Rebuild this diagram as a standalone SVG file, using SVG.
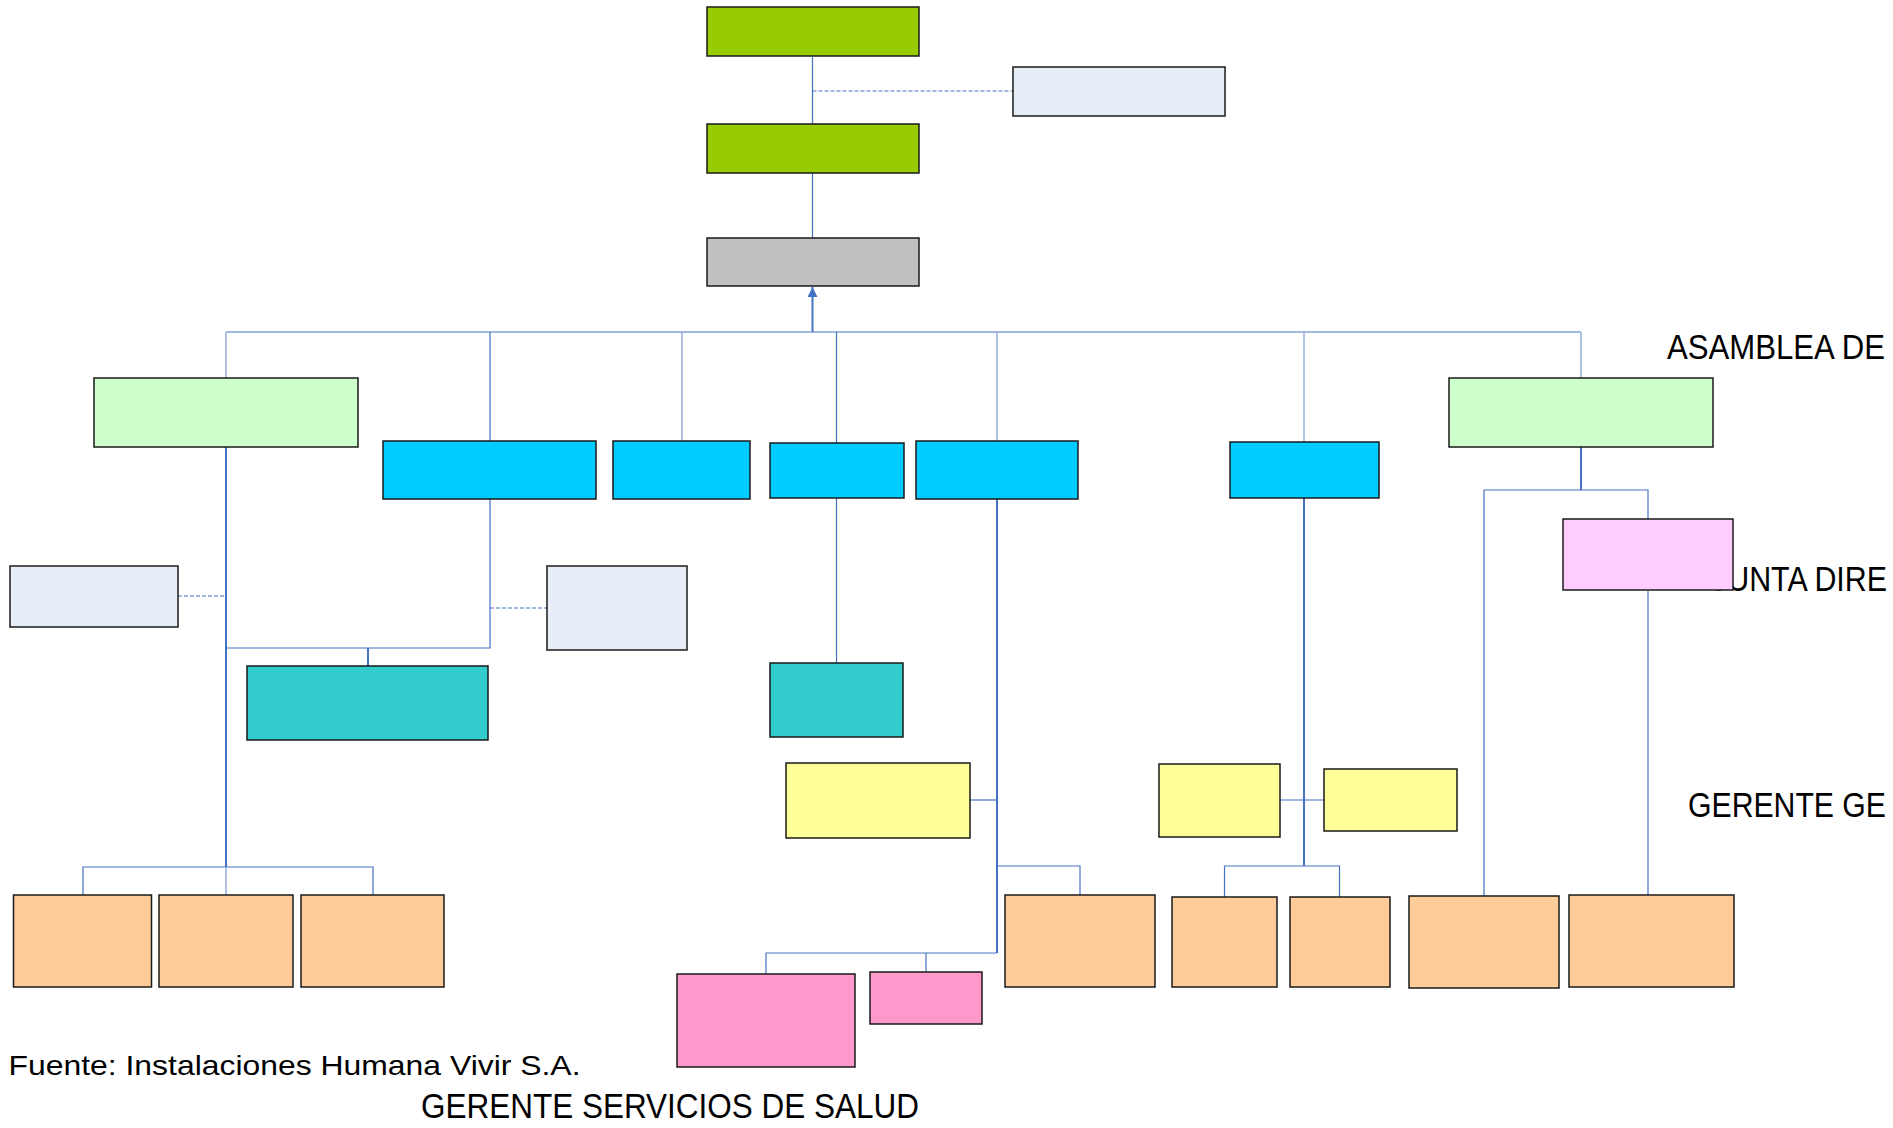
<svg xmlns="http://www.w3.org/2000/svg" width="1893" height="1128" viewBox="0 0 1893 1128">
<defs>
<style>
.n{stroke:#1a1a1a;stroke-width:1.5}
.g1{fill:#99CC00}.gr{fill:#C0C0C0}.lb{fill:#E6EDF7}.lg{fill:#CCFFCC}.bl{fill:#00CCFF}
.tl{fill:#33CCCC}.ye{fill:#FFFF99}.or{fill:#FFCC99}.pk{fill:#FFCCFF}.pm{fill:#FF99CC}
.c{fill:none;stroke:#4472C4;stroke-width:1.2}
.cl{fill:none;stroke:#8EA9DB;stroke-width:1.4}
.ct{fill:none;stroke:#4472C4;stroke-width:2}
.cd{fill:none;stroke:#4472C4;stroke-width:1.2;stroke-dasharray:4 2}
.t{font-family:"Liberation Sans",Arial,sans-serif;fill:#000}
</style>
<marker id="ar" viewBox="0 0 10 10" refX="10" refY="5" markerWidth="10" markerHeight="10" markerUnits="userSpaceOnUse" orient="auto">
<path d="M0,0 L10,5 L0,10 z" fill="#4472C4"/>
</marker>
</defs>
<rect width="1893" height="1128" fill="#fff"/>

<g id="labels-behind">
<text class="t" x="1712" y="591" font-size="35" textLength="175" lengthAdjust="spacingAndGlyphs">JUNTA DIRE</text>
</g>

<g id="connectors">
<line class="c" x1="812.5" y1="57" x2="812.5" y2="124"/>
<line class="cd" x1="812.5" y1="91" x2="1013" y2="91"/>
<line class="c" x1="812.5" y1="173" x2="812.5" y2="238"/>
<line class="ct" x1="812.5" y1="332" x2="812.5" y2="287" marker-end="url(#ar)"/>
<line class="c" x1="226" y1="332" x2="1581" y2="332"/>
<line class="cl" x1="226" y1="332" x2="226" y2="378"/>
<line class="c" x1="490" y1="332" x2="490" y2="441"/>
<line class="cl" x1="682" y1="332" x2="682" y2="441"/>
<line class="c" x1="836.5" y1="332" x2="836.5" y2="443"/>
<line class="cl" x1="997" y1="332" x2="997" y2="441"/>
<line class="cl" x1="1304" y1="332" x2="1304" y2="442"/>
<line class="cl" x1="1581" y1="332" x2="1581" y2="378"/>
<line class="ct" x1="226" y1="447" x2="226" y2="867"/>
<line class="cd" x1="178" y1="596" x2="226" y2="596"/>
<polyline class="c" points="490,499 490,648 226,648"/>
<line class="cd" x1="490" y1="608" x2="547" y2="608"/>
<line class="ct" x1="368" y1="648" x2="368" y2="666"/>
<polyline class="c" points="83,895 83,867 373,867 373,895"/>
<line class="cl" x1="226" y1="867" x2="226" y2="895"/>
<line class="c" x1="836.5" y1="498" x2="836.5" y2="663"/>
<line class="ct" x1="997" y1="499" x2="997" y2="953"/>
<line class="c" x1="970" y1="800" x2="997" y2="800"/>
<polyline class="c" points="997,866 1080,866 1080,895"/>
<polyline class="c" points="997,953 766,953 766,974"/>
<line class="c" x1="926" y1="953" x2="926" y2="972"/>
<line class="ct" x1="1304" y1="498" x2="1304" y2="866"/>
<line class="c" x1="1280" y1="800" x2="1324" y2="800"/>
<polyline class="c" points="1224.5,897 1224.5,866 1339.5,866 1339.5,897"/>
<line class="ct" x1="1581" y1="447" x2="1581" y2="490"/>
<polyline class="c" points="1484,896 1484,490 1648,490 1648,519"/>
<line class="c" x1="1648" y1="591" x2="1648" y2="895"/>
</g>

<g id="n-top"><rect class="n g1" x="707" y="7" width="212" height="49"/></g>
<g id="n-revisor"><rect class="n lb" x="1013" y="67" width="212" height="49"/></g>
<g id="n-green2"><rect class="n g1" x="707" y="124" width="212" height="49"/></g>
<g id="n-gray"><rect class="n gr" x="707" y="238" width="212" height="48"/></g>

<g id="n-lgreen-left"><rect class="n lg" x="94" y="378" width="264" height="69"/></g>
<g id="n-lgreen-right"><rect class="n lg" x="1449" y="378" width="264" height="69"/></g>

<g id="n-blue1"><rect class="n bl" x="383" y="441" width="213" height="58"/></g>
<g id="n-blue2"><rect class="n bl" x="613" y="441" width="137" height="58"/></g>
<g id="n-blue3"><rect class="n bl" x="770" y="443" width="134" height="55"/></g>
<g id="n-blue4"><rect class="n bl" x="916" y="441" width="162" height="58"/></g>
<g id="n-blue5"><rect class="n bl" x="1230" y="442" width="149" height="56"/></g>

<g id="n-lb-left"><rect class="n lb" x="10" y="566" width="168" height="61"/></g>
<g id="n-lb-mid"><rect class="n lb" x="547" y="566" width="140" height="84"/></g>

<g id="n-teal1"><rect class="n tl" x="247" y="666" width="241" height="74"/></g>
<g id="n-teal2"><rect class="n tl" x="770" y="663" width="133" height="74"/></g>

<g id="n-pink-light"><rect class="n pk" x="1563" y="519" width="170" height="71"/></g>

<g id="n-yellow1"><rect class="n ye" x="786" y="763" width="184" height="75"/></g>
<g id="n-yellow2"><rect class="n ye" x="1159" y="764" width="121" height="73"/></g>
<g id="n-yellow3"><rect class="n ye" x="1324" y="769" width="133" height="62"/></g>

<g id="n-or1"><rect class="n or" x="13.5" y="895" width="138" height="92"/></g>
<g id="n-or2"><rect class="n or" x="159" y="895" width="134" height="92"/></g>
<g id="n-or3"><rect class="n or" x="301" y="895" width="143" height="92"/></g>
<g id="n-or4"><rect class="n or" x="1005" y="895" width="150" height="92"/></g>
<g id="n-or5"><rect class="n or" x="1172" y="897" width="105" height="90"/></g>
<g id="n-or6"><rect class="n or" x="1290" y="897" width="100" height="90"/></g>
<g id="n-or7"><rect class="n or" x="1409" y="896" width="150" height="92"/></g>
<g id="n-or8"><rect class="n or" x="1569" y="895" width="165" height="92"/></g>

<g id="n-pink1"><rect class="n pm" x="677" y="974" width="178" height="93"/></g>
<g id="n-pink2"><rect class="n pm" x="870" y="972" width="112" height="52"/></g>

<g id="labels">
<text class="t" x="1667" y="359" font-size="35" textLength="218" lengthAdjust="spacingAndGlyphs">ASAMBLEA DE</text>
<text class="t" x="1688" y="817" font-size="35" textLength="198" lengthAdjust="spacingAndGlyphs">GERENTE GE</text>
<text class="t" x="8.5" y="1075" font-size="28" textLength="572" lengthAdjust="spacingAndGlyphs">Fuente: Instalaciones Humana Vivir S.A.</text>
<text class="t" x="421" y="1118" font-size="35" textLength="498" lengthAdjust="spacingAndGlyphs">GERENTE SERVICIOS DE SALUD</text>
</g>
</svg>
